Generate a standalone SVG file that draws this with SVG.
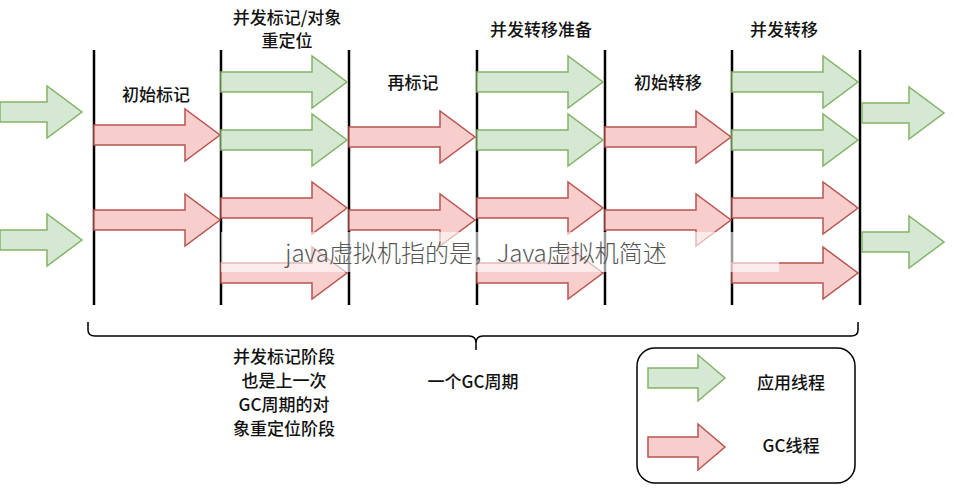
<svg xmlns="http://www.w3.org/2000/svg" xmlns:xlink="http://www.w3.org/1999/xlink" width="954" height="490" viewBox="0 0 954 490">
<style>
.g{fill:#d5e8d4;stroke:#82b366;stroke-width:1.5}
.r{fill:#f8cecc;stroke:#b85450;stroke-width:1.5}
.vl{stroke:#000;stroke-width:2.5}
text{font-family:"Noto Sans CJK SC","Liberation Sans",sans-serif;font-size:17px;font-weight:500;fill:#111;text-anchor:middle}
</style>
<defs>
<path id="a" d="M0,-10 H91 V-26 L126,0 L91,26 V10 H0 Z"/>
<path id="s" d="M0,-10 H47 V-26 L82,0 L47,26 V10 H0 Z"/>
<path id="l" d="M0,-10 H50 V-23 L77,0 L50,23 V10 H0 Z"/>
</defs>
<rect width="954" height="490" fill="#fff"/>
<g id="lines">
<line class="vl" x1="94" y1="50" x2="94" y2="305"/>
<line class="vl" x1="221" y1="50" x2="221" y2="305"/>
<line class="vl" x1="349" y1="50" x2="349" y2="305"/>
<line class="vl" x1="477" y1="50" x2="477" y2="305"/>
<line class="vl" x1="605" y1="50" x2="605" y2="305"/>
<line class="vl" x1="732" y1="50" x2="732" y2="305"/>
<line class="vl" x1="860" y1="50" x2="860" y2="305"/>
</g>
<g id="arrows">
<use href="#s" class="g" x="0" y="112"/>
<use href="#s" class="g" x="0" y="240"/>
<use href="#a" class="r" x="94" y="135"/>
<use href="#a" class="r" x="94" y="220"/>
<use href="#a" class="g" x="221" y="82"/>
<use href="#a" class="g" x="221" y="140"/>
<use href="#a" class="r" x="221" y="208"/>
<use href="#a" class="r" x="221" y="273"/>
<use href="#a" class="r" x="349" y="137"/>
<use href="#a" class="r" x="349" y="220"/>
<use href="#a" class="g" x="477" y="82"/>
<use href="#a" class="g" x="477" y="140"/>
<use href="#a" class="r" x="477" y="208"/>
<use href="#a" class="r" x="477" y="273"/>
<use href="#a" class="r" x="605" y="137"/>
<use href="#a" class="r" x="605" y="220"/>
<use href="#a" class="g" x="732" y="82"/>
<use href="#a" class="g" x="732" y="140"/>
<use href="#a" class="r" x="732" y="208"/>
<use href="#a" class="r" x="732" y="273"/>
<use href="#s" class="g" x="862" y="113"/>
<use href="#s" class="g" x="862" y="242"/>
</g>
<g id="labels">
<text x="156" y="101">初始标记</text>
<text x="287" y="24">并发标记/对象</text>
<text x="287" y="47">重定位</text>
<text x="413" y="89">再标记</text>
<text x="541" y="36">并发转移准备</text>
<text x="784" y="36">并发转移</text>
<text x="668" y="89">初始转移</text>
</g>
<g id="brace">
<path d="M88,322 V330 Q88,336 95,336 H469 Q476,336 476,343 V350 M476,343 Q476,336 483,336 H851 Q858,336 858,330 V322" fill="none" stroke="#000" stroke-width="1.5"/>
<text x="284" y="363">并发标记阶段</text>
<text x="284" y="387">也是上一次</text>
<text x="284" y="411">GC周期的对</text>
<text x="284" y="435">象重定位阶段</text>
<text x="473" y="388">一个GC周期</text>
</g>
<g id="legend">
<rect x="637" y="348" width="218" height="135" rx="18" fill="none" stroke="#000" stroke-width="1.5"/>
<use href="#l" class="g" x="648" y="378"/>
<use href="#l" class="r" x="648" y="447"/>
<text x="791" y="389">应用线程</text>
<text x="791" y="452">GC线程</text>
</g>
<g id="watermark">
<rect x="221" y="232" width="558" height="40" fill="#fff" opacity="0.6"/>
<text x="476" y="262" style="font-size:24px;font-weight:300;fill:#555">java虚拟机指的是，Java虚拟机简述</text>
</g>
</svg>
